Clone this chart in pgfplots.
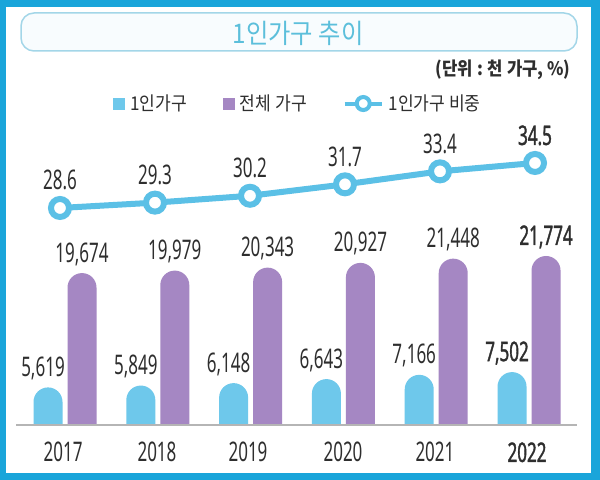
\documentclass[border=0pt]{standalone}
\usepackage{pgfplots}
\pgfplotsset{compat=1.18}
\usepackage{pgfplotstable}
\usepackage{fontspec}
\setmainfont{Noto Sans}
\newfontfamily\numfont{Noto Sans}[FakeStretch=0.63]
\newfontfamily\numfontb{Noto Sans}[FakeStretch=0.63, FakeBold=1.3]
\newfontfamily\kr{Noto Sans CJK KR}[FakeStretch=0.9]
\newcommand\bn[1]{{\numfontb #1}}
\definecolor{frameblue}{HTML}{1AA5DA}
\definecolor{cblue}{HTML}{6EC8EB}
\definecolor{cpurple}{HTML}{A587C3}
\definecolor{cline}{HTML}{5BC0E6}
\definecolor{titleblue}{HTML}{5CBFDB}
\definecolor{boxline}{HTML}{A3D6E8}
\definecolor{boxfill}{HTML}{F8FCFE}
\definecolor{txt}{HTML}{2E2E2E}
\definecolor{basegray}{HTML}{B5B5B5}

\pgfplotstableread{
x y label
0 5619 5,619
1 5849 5,849
2 6148 6,148
3 6643 6,643
4 7166 7,166
5 7502 \bn{7,502}
}\single
\pgfplotstableread{
x y label
0 19674 19,674
1 19979 19,979
2 20343 20,343
3 20927 20,927
4 21448 21,448
5 21774 \bn{21,774}
}\total
\pgfplotstableread{
x y label
0 28.6 28.6
1 29.3 29.3
2 30.2 30.2
3 31.7 31.7
4 33.4 33.4
5 34.5 \bn{34.5}
}\share

\newcommand\numsize{\fontsize{27bp}{30bp}\selectfont}

\begin{document}
\begin{tikzpicture}[x=1bp,y=1bp]
% frame
\fill[frameblue] (0,0) rectangle (600,480);
\fill[white] (6,7) rectangle (591,473);
% title box
\draw[boxline, fill=boxfill, line width=1.5bp, rounded corners=13bp] (21,429) rectangle (577,467);
\node[text=titleblue, font=\kr\fontsize{27bp}{30bp}\selectfont] at (298,447) {1인가구 추이};
\node[anchor=east, text=txt, font=\kr\bfseries\fontsize{18.5bp}{21bp}\selectfont] at (574,410) {(단위 : 천 가구, \%)};

% bars (bottom part below the baseline is covered afterwards)
\begin{axis}[
  at={(16bp,30.6bp)}, anchor=south west, scale only axis,
  width=561bp, height=299.4bp,
  xmin=-0.528, xmax=5.517, ymin=0, ymax=36805,
  hide axis,
  ybar=5bp, bar width=29bp,
  y filter/.expression={y+2000},
  point meta=explicit symbolic,
  nodes near coords,
  nodes near coords style={font=\numfont\numsize, text=txt, anchor=base, yshift=11bp, inner sep=0pt},
  legend style={at={(0.5027,1.1552)}, anchor=center, draw=none, fill=none,
    legend columns=3, font=\kr\fontsize{19bp}{22bp}\selectfont, text=txt,
    /tikz/every odd column/.append style={column sep=3bp},
    /tikz/every even column/.append style={column sep=34bp}},
]
\addplot[fill=cblue, draw=none, rounded corners=14.5bp,
  nodes near coords style={xshift=-5bp},
  legend image code/.code={\fill[cblue, sharp corners] (0bp,-6bp) rectangle (12bp,6bp);}]
  table[x=x, y=y, meta=label] {\single};
\addlegendentry{1인가구}
\addplot[fill=cpurple, draw=none, rounded corners=14.5bp,
  legend image code/.code={\fill[cpurple, sharp corners] (0bp,-6bp) rectangle (12bp,6bp);}]
  table[x=x, y=y, meta=label] {\total};
\addlegendentry{전체 가구}
\addlegendimage{legend image code/.code={\draw[cline, line width=4bp, sharp corners] (0bp,0bp) -- (37bp,0bp); \filldraw[fill=white, draw=cline, line width=4bp] (18.5bp,0bp) circle (6.5bp);}}
\addlegendentry{1인가구 비중}
\end{axis}

% cover below the baseline
\fill[white] (6,7) rectangle (591,55);

% line, baseline, year labels
\begin{axis}[
  at={(16bp,55bp)}, anchor=south west, scale only axis,
  width=561bp, height=275bp,
  xmin=-0.463, xmax=5.442, ymin=0.16, ymax=36.2,
  axis x line*=bottom, axis y line=none, clip=false,
  x axis line style={draw=basegray, line width=1.3bp, -},
  xtick={0.032,1.021,1.979,2.979,3.947,4.916},
  xticklabels={2017,2018,2019,2020,2021,\bn{2022}},
  major tick length=0pt, ytick=\empty,
  xticklabel style={font=\numfont\numsize, text=txt, anchor=base, yshift=-37bp},
]
\addplot[color=cline, line width=6bp, mark=*, mark size=9bp,
  mark options={fill=white, draw=cline, line width=6bp},
  point meta=explicit symbolic, nodes near coords,
  nodes near coords style={font=\numfont\numsize, text=txt, anchor=base, yshift=18bp, inner sep=0pt}]
  table[x=x, y=y, meta=label] {\share};
\end{axis}
\end{tikzpicture}
\end{document}
